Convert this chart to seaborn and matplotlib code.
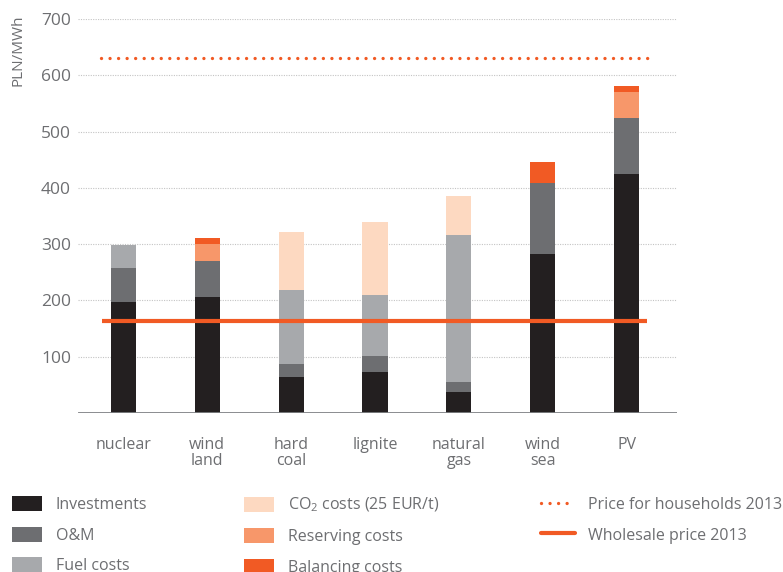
import matplotlib
matplotlib.use("Agg")
import matplotlib.pyplot as plt
import seaborn as sns
import pandas as pd
import numpy as np
from matplotlib.patches import Patch
from matplotlib.lines import Line2D

categories = ["nuclear", "wind\nland", "hard\ncoal", "lignite", "natural\ngas", "wind\nsea", "PV"]
investments = [197, 206, 64, 73, 37, 282, 424]
om = [60, 64, 23, 28, 18, 126, 100]
fuel = [41, 0, 131, 108, 261, 0, 0]
co2 = [0, 0, 103, 131, 69, 0, 0]
reserving = [0, 30, 0, 0, 0, 0, 46]
balancing = [0, 11, 0, 0, 0, 38, 11]
price_households = 630
wholesale_price = 164
yticks = [100, 200, 300, 400, 500, 600, 700]

series_names = ["Investments", "O&M", "Fuel costs", r"CO$_2$ costs (25 EUR/t)",
                "Reserving costs", "Balancing costs"]
series_vals = [investments, om, fuel, co2, reserving, balancing]
colors = ["#231f20", "#6d6e71", "#a7a9ac", "#fdd9c1", "#f7976a", "#f15a24"]
text_color = "#6d6e71"
line_color = "#f15a24"

sns.set_theme(style="white")
plt.rcParams["font.family"] = ["Open Sans", "DejaVu Sans"]
plt.rcParams["mathtext.default"] = "regular"

fig = plt.figure(figsize=(7.83, 5.72), dpi=100)
ax = fig.add_axes([78 / 783, 1 - 413 / 572, (677 - 78) / 783, (413 - 19) / 572])

cum = np.cumsum(np.array(series_vals), axis=0)
labels_flat = [c.replace("\n", " ") for c in categories]
for i in range(len(series_vals) - 1, -1, -1):
    df = pd.DataFrame({"cat": labels_flat, "val": cum[i]})
    sns.barplot(data=df, x="cat", y="val", order=labels_flat, color=colors[i],
                width=0.3, saturation=1, linewidth=0, ax=ax, zorder=3)

ax.set_xlim(-0.54, 6.6)
ax.set_ylim(0, 700)
ax.set_yticks(yticks)
ax.set_yticklabels([str(t) for t in yticks], color=text_color, fontsize=12.5)
ax.set_xticks(range(len(categories)))
ax.set_xticklabels(categories, color=text_color, fontsize=11.5, linespacing=1.0, va="top")
ax.tick_params(axis="x", length=0, pad=17)
ax.tick_params(axis="y", length=0, pad=5)
ax.set_xlabel("")
ax.set_ylabel("")
for s in ax.spines.values():
    s.set_visible(False)
for t in yticks:
    ax.axhline(t, color="#c4c4c4", lw=0.8, ls=(0, (1, 1.2)), zorder=1)
ax.axhline(0, color="#808285", lw=2, zorder=4)

ax.plot([-0.27, 6.33], [price_households] * 2, color=line_color, lw=2.4,
        ls=(0, (0.01, 2.55)), dash_capstyle="round", zorder=5)
ax.plot([-0.25, 6.24], [wholesale_price] * 2, color=line_color, lw=3, zorder=5,
        solid_capstyle="butt")

fig.text(18 / 783, 1 - 14 / 572, "PLN/MWh", rotation=90, ha="center", va="top",
         color=text_color, fontsize=11)

def make_legend(handles, labels, x, hl):
    leg = fig.legend(handles, labels, loc="upper left",
                     bbox_to_anchor=(x / 783, 1 - 496 / 572), frameon=False,
                     fontsize=11.5, handlelength=hl, handleheight=1.1,
                     handletextpad=0.85, labelspacing=0.85, borderaxespad=0,
                     borderpad=0)
    for t in leg.get_texts():
        t.set_color(text_color)
    return leg

h1 = [Patch(facecolor=c, edgecolor="none") for c in colors[:3]]
h2 = [Patch(facecolor=c, edgecolor="none") for c in colors[3:]]
h3 = [Line2D([], [], color=line_color, lw=2.4, ls=(0, (0.01, 2.55)), dash_capstyle="round"),
      Line2D([], [], color=line_color, lw=3)]
make_legend(h1, series_names[:3], 12, 1.9)
make_legend(h2, series_names[3:], 244, 1.9)
make_legend(h3, ["Price for households 2013", "Wholesale price 2013"], 541, 2.1)

fig.savefig("out.png", dpi=100)
